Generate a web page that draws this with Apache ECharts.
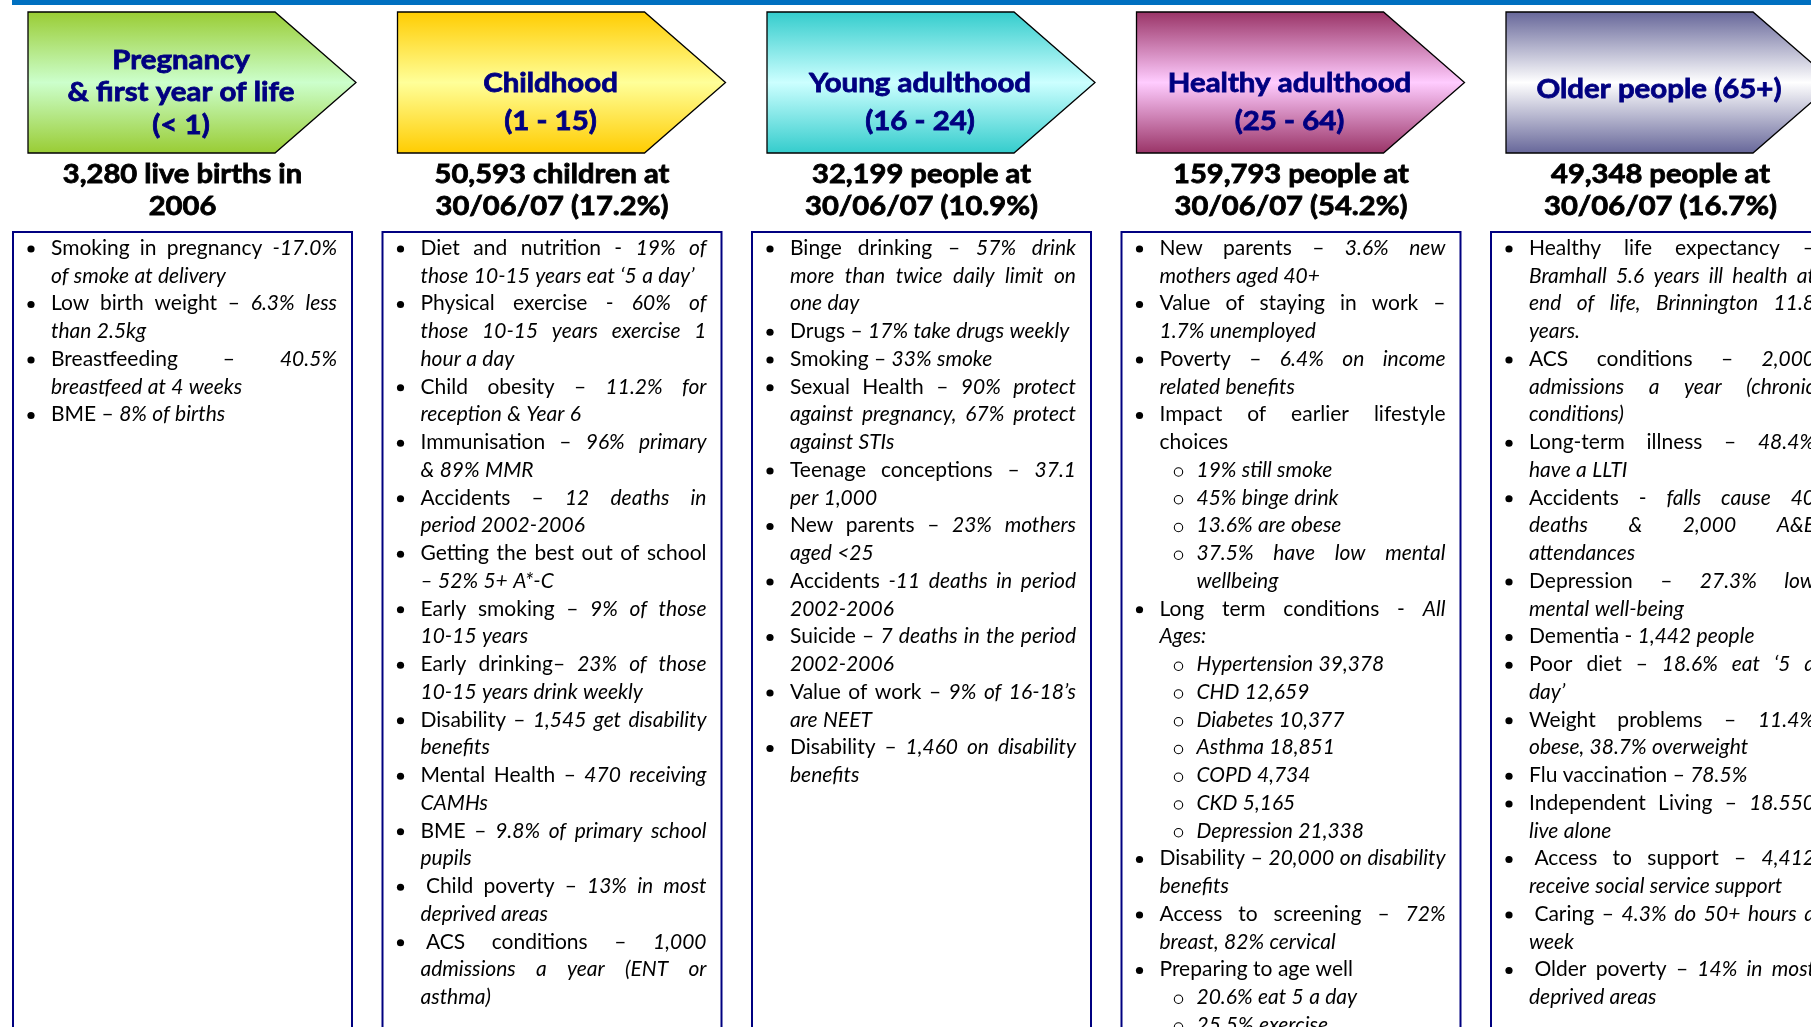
<!DOCTYPE html>
<html><head><meta charset="utf-8">
<script src="https://cdn.jsdelivr.net/npm/echarts@6/dist/echarts.min.js"></script>
<style>html,body{margin:0;padding:0;background:#fff;overflow:hidden}#c{width:1811px;height:1027px}</style>
</head><body><div id="c"></div>
<script>
// ---------------- DATA ----------------
const stageTitles = [
  ["Pregnancy", "& first year of life", "(< 1)"],
  ["Childhood", "(1 - 15)"],
  ["Young adulthood", "(16 - 24)"],
  ["Healthy adulthood", "(25 - 64)"],
  ["Older people (65+)"]
];
const populations = [
  ["3,280 live births in", "2006"],
  ["50,593 children at", "30/06/07 (17.2%)"],
  ["32,199 people at", "30/06/07 (10.9%)"],
  ["159,793 people at", "30/06/07 (54.2%)"],
  ["49,348 people at", "30/06/07 (16.7%)"]
];
// '|' toggles italic; {s:[...]} = sub-bullet
const pregnancyItems = [
  ["Smoking in pregnancy |-17.0%", "of smoke at delivery"],
  ["Low birth weight – |6.3% less", "than 2.5kg"],
  ["Breastfeeding – |40.5%", "breastfeed at 4 weeks"],
  ["BME – |8% of births"]
];
const childhoodItems = [
  ["Diet and nutrition - |19% of", "those 10-15 years eat ‘5 a day’"],
  ["Physical exercise - |60% of", "those 10-15 years exercise 1", "hour a day"],
  ["Child obesity – |11.2% for", "reception & Year 6"],
  ["Immunisation – |96% primary", "& 89% MMR"],
  ["Accidents – |12 deaths in", "period 2002-2006"],
  ["Getting the best out of school", "|– 52% 5+ A*-C"],
  ["Early smoking – |9% of those", "10-15 years"],
  ["Early drinking– |23% of those", "10-15 years drink weekly"],
  ["Disability – |1,545 get disability", "benefits"],
  ["Mental Health – |470 receiving", "CAMHs"],
  ["BME – |9.8% of primary school", "pupils"],
  [" Child poverty – |13% in most", "deprived areas"],
  [" ACS conditions – |1,000", "admissions a year (ENT or", "asthma)"]
];
const youngItems = [
  ["Binge drinking – |57% drink", "more than twice daily limit on", "one day"],
  ["Drugs – |17% take drugs weekly"],
  ["Smoking – |33% smoke"],
  ["Sexual Health – |90% protect", "against pregnancy, 67% protect", "against STIs"],
  ["Teenage conceptions – |37.1", "per 1,000"],
  ["New parents – |23% mothers", "aged <25"],
  ["Accidents |-11 deaths in period", "2002-2006"],
  ["Suicide – |7 deaths in the period", "2002-2006"],
  ["Value of work – |9% of 16-18’s", "are NEET"],
  ["Disability – |1,460 on disability", "benefits"]
];
const adultItems = [
  ["New parents – |3.6% new", "mothers aged 40+"],
  ["Value of staying in work –", "|1.7% unemployed"],
  ["Poverty – |6.4% on income", "related benefits"],
  ["Impact of earlier lifestyle", "choices"],
  {s: ["|19% still smoke"]},
  {s: ["|45% binge drink"]},
  {s: ["|13.6% are obese"]},
  {s: ["|37.5% have low mental", "wellbeing"]},
  ["Long term conditions - |All", "Ages:"],
  {s: ["|Hypertension 39,378"]},
  {s: ["|CHD 12,659"]},
  {s: ["|Diabetes 10,377"]},
  {s: ["|Asthma 18,851"]},
  {s: ["|COPD 4,734"]},
  {s: ["|CKD 5,165"]},
  {s: ["|Depression 21,338"]},
  ["Disability – |20,000 on disability", "benefits"],
  ["Access to screening – |72%", "breast, 82% cervical"],
  ["Preparing to age well"],
  {s: ["|20.6% eat 5 a day"]},
  {s: ["|25.5% exercise"]}
];
const olderItems = [
  ["Healthy life expectancy –", "|Bramhall 5.6 years ill health at", "end of life, Brinnington 11.8", "years."],
  ["ACS conditions – |2,000", "admissions a year (chronic", "conditions)"],
  ["Long-term illness – |48.4%", "have a LLTI"],
  ["Accidents - |falls cause 40", "deaths & 2,000 A&E", "attendances"],
  ["Depression – |27.3% low", "mental well-being"],
  ["Dementia - |1,442 people"],
  ["Poor diet – |18.6% eat ‘5 a", "day’"],
  ["Weight problems – |11.4%", "obese, 38.7% overweight"],
  ["Flu vaccination – |78.5%"],
  ["Independent Living – |18.550", "live alone"],
  [" Access to support – |4,412", "receive social service support"],
  [" Caring – |4.3% do 50+ hours a", "week"],
  [" Older poverty – |14% in most", "deprived areas"]
];
const columnItems = [pregnancyItems, childhoodItems, youngItems, adultItems, olderItems];

// ---------------- STYLE / LAYOUT ----------------
const arrowColors = [
  ['#99CC33', '#CCFFCC'],
  ['#FFCC00', '#FFFF99'],
  ['#33CCCC', '#CCFFFF'],
  ['#993366', '#FFCCFF'],
  ['#666699', '#FFFFFF']
];
const FAMILY = 'Lato';
const BOX0 = 13, STEP = 369.5, BOXW = 339, BOXTOP = 232;
const BODY = 21, LH = 27.75, FIRSTY = 248;

const mctx = document.createElement('canvas').getContext('2d');
function fontStr(it, wt, sz) { return (it ? 'italic ' : 'normal ') + wt + ' ' + sz + 'px ' + FAMILY; }
function measure(t, it, wt, sz) { mctx.font = fontStr(it, wt, sz); return mctx.measureText(t).width; }

const els = [];
els.push({type: 'rect', shape: {x: 12, y: 0, width: 1811, height: 5}, style: {fill: '#0070C0'}});

function textEl(x, y, t, it, wt, sz, fill, align, sx, strokeW) {
  const st = {text: t, font: fontStr(it, wt, sz), fill: fill, align: align, verticalAlign: 'middle',
              textAlign: align, textVerticalAlign: 'middle'};
  if (strokeW) { st.stroke = fill; st.lineWidth = strokeW; }
  return {type: 'text', x: x, y: y, scaleX: sx || 1, z: 10, style: st};
}

const spaceW = measure(' ', false, 'normal', BODY);

function layoutLines(lines, x0, right, yStart, italic) {
  let it = italic;
  lines.forEach((line, li) => {
    const lead = line.startsWith(' ') ? spaceW : 0;
    const words = [];
    let cur = null;
    for (const ch of line.replace(/^ +/, '')) {
      if (ch === '|') { it = !it; continue; }
      if (ch === ' ') { if (cur) { words.push(cur); cur = null; } continue; }
      if (!cur) cur = {t: '', i: it};
      cur.t += ch;
    }
    if (cur) words.push(cur);
    words.forEach(w => { w.w = measure(w.t, w.i, 'normal', BODY); });
    const n = words.length;
    const sum = words.reduce((a, w) => a + w.w, 0);
    const avail = right - x0 - lead;
    const natural = sum + spaceW * (n - 1);
    let gap = spaceW, s = 1;
    const isLast = li === lines.length - 1;
    if (natural > avail) s = avail / natural;
    else if (!isLast && n > 1) gap = (avail - sum) / (n - 1);
    let px = 0;
    const y = yStart + li * LH;
    words.forEach(w => {
      els.push(textEl(x0 + lead + px * s, y, w.t, w.i, 'normal', BODY, '#000', 'left', s));
      px += w.w + gap;
    });
  });
  return lines.length;
}

for (let c = 0; c < 5; c++) {
  const bx = BOX0 + c * STEP;
  const ax = bx + 15;
  const [dark, light] = arrowColors[c];
  els.push({type: 'polygon', z: 1,
    shape: {points: [[ax, 12], [ax + 247, 12], [ax + 328, 82.5], [ax + 247, 153], [ax, 153]]},
    style: {fill: {type: 'linear', x: 0, y: 0, x2: 0, y2: 1, colorStops: [
      {offset: 0, color: dark}, {offset: 0.5, color: light}, {offset: 1, color: dark}]},
      stroke: '#000', lineWidth: 1.3}});
  const tl = stageTitles[c];
  const tStart = tl.length === 3 ? 60 : (tl.length === 2 ? 83 : 89);
  const tStep = tl.length === 3 ? 32.5 : 38.5;
  tl.forEach((t, i) => els.push(textEl(bx + 168, tStart + i * tStep, t, false, 'bold', 27, '#000080', 'center', 1.09, 0.8)));
  populations[c].forEach((t, i) => els.push(textEl(bx + 169.5, 174.5 + i * 32.5, t, false, 'bold', 26, '#000', 'center', 1.12, 0.8)));
  els.push({type: 'rect', z: 2, shape: {x: bx, y: BOXTOP, width: BOXW, height: 900},
    style: {fill: 'none', stroke: '#000080', lineWidth: 2}});
  let row = 0;
  const right = bx + BOXW - 15;
  columnItems[c].forEach(item => {
    const y = FIRSTY + row * LH;
    if (Array.isArray(item)) {
      els.push({type: 'circle', z: 10, shape: {cx: bx + 18, cy: y + 1, r: 3.6}, style: {fill: '#000'}});
      row += layoutLines(item, bx + 38, right, y, false);
    } else {
      els.push({type: 'circle', z: 10, shape: {cx: bx + 57, cy: y + 2, r: 4.2}, style: {fill: 'none', stroke: '#000', lineWidth: 1.1}});
      row += layoutLines(item.s, bx + 75, right, y, false);
    }
  });
}

const chart = echarts.init(document.getElementById('c'), null, {renderer: 'canvas'});
chart.setOption({animation: false, backgroundColor: '#fff', graphic: {elements: els}});
</script>
</body></html>
